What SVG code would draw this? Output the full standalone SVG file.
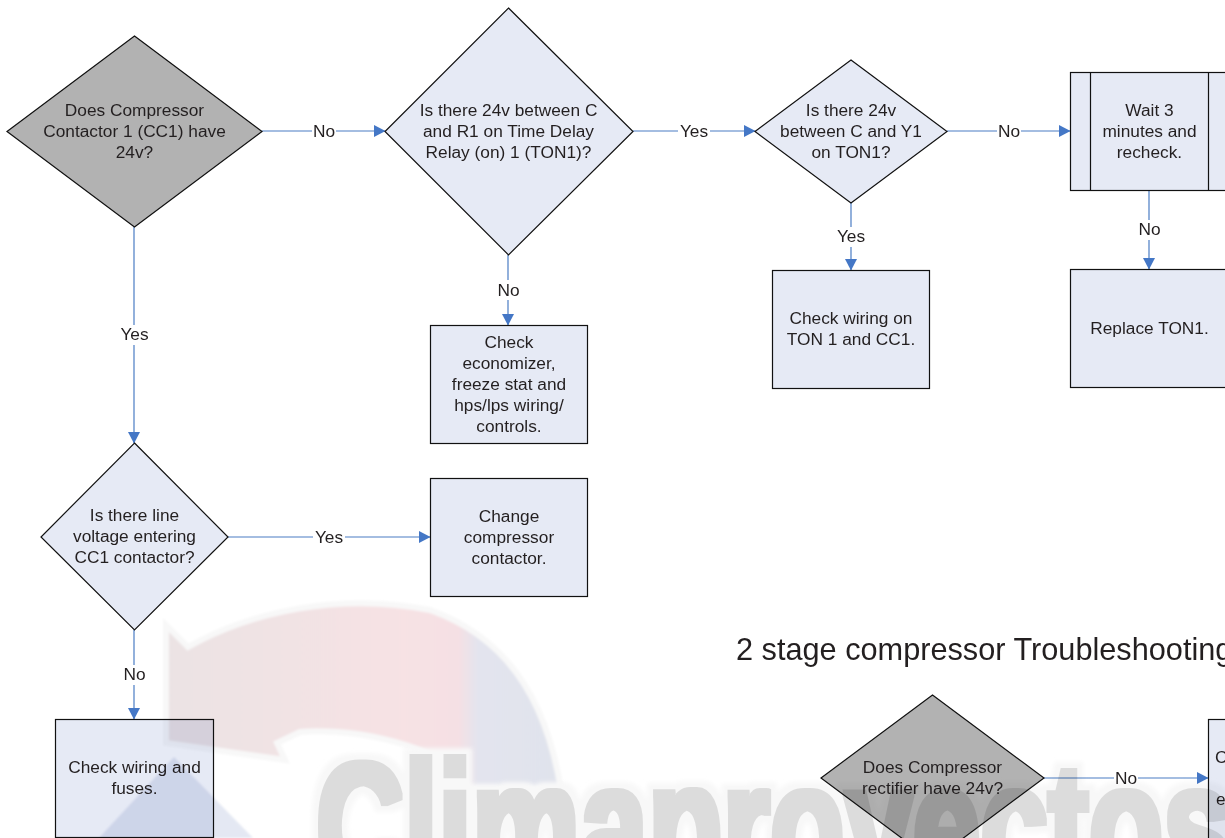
<svg xmlns="http://www.w3.org/2000/svg" width="1225" height="838" viewBox="0 0 1225 838">
<style>
text{font-family:"Liberation Sans",Arial,sans-serif;font-size:17.300px;fill:#231f20;text-anchor:middle}
.n{fill:#e6eaf5;stroke:#111;stroke-width:1.200}
.g{fill:#b2b2b2;stroke:#111;stroke-width:1.200}
.c line{stroke:#4a7cc4;stroke-width:1.200;marker-end:url(#a)}
.bg{fill:#fff}
.wm{mix-blend-mode:multiply}
</style>
<defs>
<marker id="a" markerUnits="userSpaceOnUse" markerWidth="12" markerHeight="12" refX="11" refY="6" orient="auto"><path d="M0 0L11.500 6L0 12Z" fill="#4477c6"/></marker>
<linearGradient id="red" x1="0" x2="1" y1="0" y2="0"><stop offset="0" stop-color="#ebe3e4"/><stop offset=".6" stop-color="#f7e2e4"/><stop offset=".74" stop-color="#f5e0e4"/><stop offset=".79" stop-color="#e3e4ee"/><stop offset="1" stop-color="#e0e3ec"/></linearGradient>
<filter id="fat" x="-5%" y="-10%" width="110%" height="120%">
<feMorphology in="SourceAlpha" operator="dilate" radius="3" result="body"/>
<feMorphology in="SourceAlpha" operator="dilate" radius="9" result="halo"/>
<feFlood flood-color="#dcdcdc"/><feComposite in2="body" operator="in" result="b"/>
<feFlood flood-color="#f8f8f8"/><feComposite in2="halo" operator="in"/><feGaussianBlur stdDeviation="2" result="h"/>
<feMerge><feMergeNode in="h"/><feMergeNode in="b"/></feMerge>
</filter>
<filter id="soft"><feGaussianBlur stdDeviation="1.200"/></filter>
</defs>
<g id="connectors" class="c">
<line x1="262" y1="131" x2="385" y2="131"/>
<line x1="633" y1="131" x2="755" y2="131"/>
<line x1="947" y1="131" x2="1070" y2="131"/>
<line x1="134" y1="227" x2="134" y2="443"/>
<line x1="508" y1="255" x2="508" y2="325"/>
<line x1="851" y1="203" x2="851" y2="270"/>
<line x1="1149" y1="191" x2="1149" y2="269"/>
<line x1="228" y1="537" x2="430" y2="537"/>
<line x1="134" y1="630" x2="134" y2="719"/>
<line x1="1044" y1="778" x2="1208" y2="778"/>
</g>
<g id="edge-labels">
<rect class="bg" x="312" y="122" width="24" height="18"/><text x="324" y="137">No</text>
<rect class="bg" x="678" y="122" width="32" height="18"/><text x="694" y="137">Yes</text>
<rect class="bg" x="997" y="122" width="24" height="18"/><text x="1009" y="137">No</text>
<rect class="bg" x="118" y="325" width="32" height="20"/><text x="134.500" y="340">Yes</text>
<rect class="bg" x="496" y="280" width="24" height="20"/><text x="508.500" y="296">No</text>
<rect class="bg" x="835" y="227" width="32" height="20"/><text x="851" y="242">Yes</text>
<rect class="bg" x="1137" y="220" width="24" height="20"/><text x="1149.500" y="235">No</text>
<rect class="bg" x="313" y="528" width="32" height="18"/><text x="329" y="543">Yes</text>
<rect class="bg" x="122" y="665" width="24" height="20"/><text x="134.500" y="680">No</text>
<rect class="bg" x="1114" y="769" width="24" height="18"/><text x="1126" y="784">No</text>
</g>
<g id="n1"><path class="g" d="M134.500 36L262 131.500L134.500 227L7 131.500Z"/><text x="134.500" y="116">Does Compressor</text><text x="134.500" y="137">Contactor 1 (CC1) have</text><text x="134.500" y="158">24v?</text></g>
<g id="n2"><path class="n" d="M508.500 8L633 131.500L508.500 255L385 131.500Z"/><text x="508.500" y="116">Is there 24v between C</text><text x="508.500" y="137">and R1 on Time Delay</text><text x="508.500" y="158">Relay (on) 1 (TON1)?</text></g>
<g id="n3"><path class="n" d="M851 60L947 131.500L851 203L755 131.500Z"/><text x="851" y="116">Is there 24v</text><text x="851" y="137">between C and Y1</text><text x="851" y="158">on TON1?</text></g>
<g id="n4"><rect class="n" x="1070.500" y="72.500" width="158" height="118"/><path class="n" d="M1090.500 72.500V190.500M1208.500 72.500V190.500"/><text x="1149.500" y="116">Wait 3</text><text x="1149.500" y="137">minutes and</text><text x="1149.500" y="158">recheck.</text></g>
<g id="n5"><rect class="n" x="430.500" y="325.500" width="157" height="118"/><text x="509" y="348">Check</text><text x="509" y="369">economizer,</text><text x="509" y="390">freeze stat and</text><text x="509" y="411">hps/lps wiring/</text><text x="509" y="432">controls.</text></g>
<g id="n6"><rect class="n" x="772.500" y="270.500" width="157" height="118"/><text x="851" y="324">Check wiring on</text><text x="851" y="345">TON 1 and CC1.</text></g>
<g id="n7"><rect class="n" x="1070.500" y="269.500" width="158" height="118"/><text x="1149.500" y="334">Replace TON1.</text></g>
<g id="n8"><path class="n" d="M134.500 443L228 537L134.500 630L41 537Z"/><text x="134.500" y="521">Is there line</text><text x="134.500" y="542">voltage entering</text><text x="134.500" y="563">CC1 contactor?</text></g>
<g id="n9"><rect class="n" x="430.500" y="478.500" width="157" height="118"/><text x="509" y="522">Change</text><text x="509" y="543">compressor</text><text x="509" y="564">contactor.</text></g>
<g id="n10"><rect class="n" x="55.500" y="719.500" width="158" height="118"/><text x="134.500" y="773">Check wiring and</text><text x="134.500" y="794">fuses.</text></g>
<g id="n11"><path class="g" d="M932.500 695L1044 778L932.500 861L821 778Z"/><text x="932.500" y="773">Does Compressor</text><text x="932.500" y="794">rectifier have 24v?</text></g>
<g id="n12"><rect class="n" x="1208.500" y="719.500" width="158" height="130"/><text x="1215" y="763" style="text-anchor:start">C</text><text x="1216" y="805" style="text-anchor:start">e</text></g>
<text id="title" x="736" y="660" style="font-size:30.700px;text-anchor:start">2 stage compressor Troubleshooting</text>
<g id="watermark" class="wm">
<path d="M166 625L188 647C250 612 340 592 430 610C500 635 545 690 561 790L470 790L455 775C430 740 340 728 300 732L277 743L285 760L166 743Z" fill="url(#red)" stroke="#f8f8f8" stroke-width="6" filter="url(#soft)"/>
<path d="M174 757L99 838H253Z" fill="#e4e8f3" filter="url(#soft)"/>
<text x="316" y="888" style="font-size:180px;font-weight:bold;fill:#dcdcdc;text-anchor:start" textLength="915" lengthAdjust="spacingAndGlyphs" filter="url(#fat)">Climaproyectos</text>
</g>
</svg>
